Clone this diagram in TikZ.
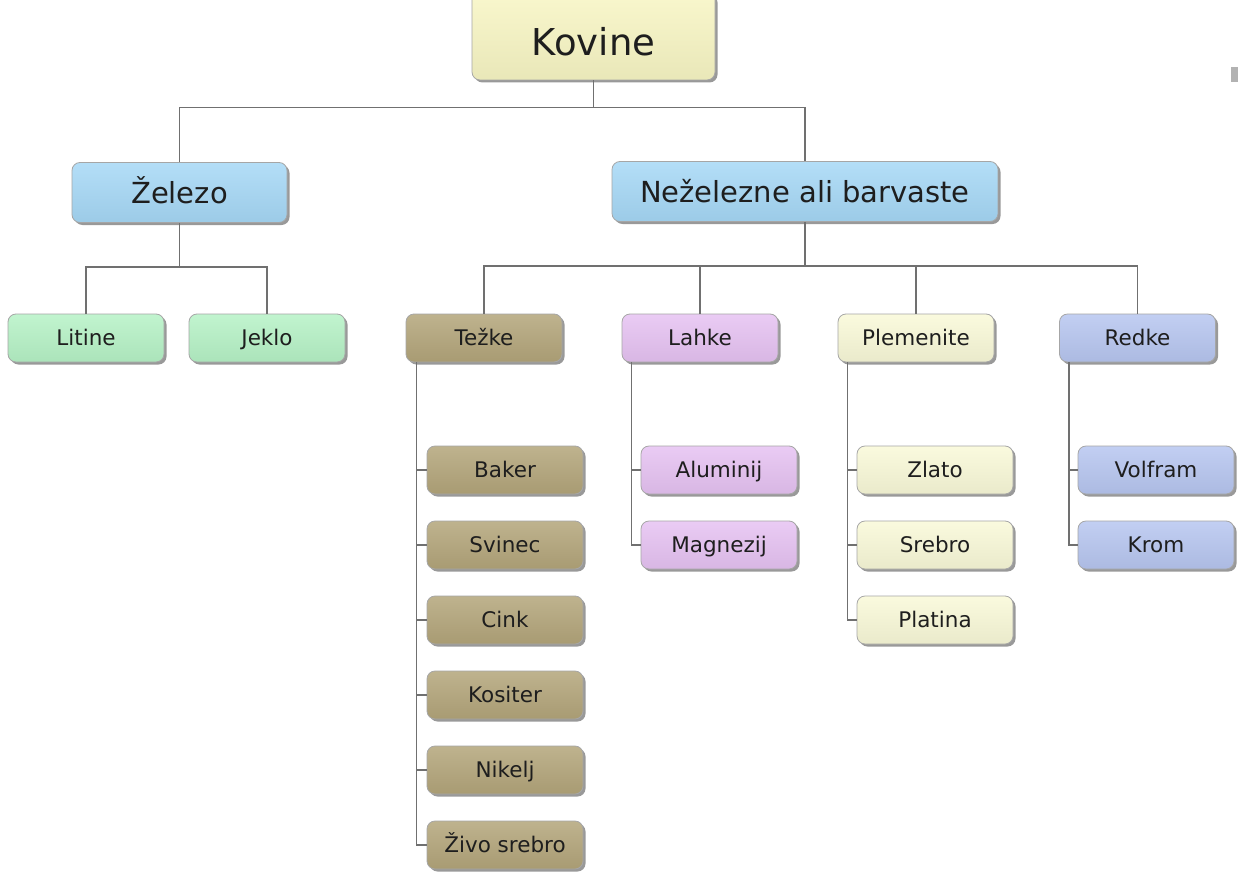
\documentclass[tikz,border=0pt]{standalone}
\usepackage{fontspec}
\setmainfont{DejaVu Sans}
\usetikzlibrary{shadows,calc}
\definecolor{cyel}{HTML}{F8F6C4}
\definecolor{cblue}{HTML}{A6D8F6}
\definecolor{cgreen}{HTML}{B6F2C6}
\definecolor{ctan}{HTML}{B3A57A}
\definecolor{cpurp}{HTML}{E6C2F2}
\definecolor{cplem}{HTML}{F9F9D8}
\definecolor{credk}{HTML}{B7C6F0}
\definecolor{cline}{HTML}{707070}
\definecolor{ctext}{HTML}{1E1E1E}
\tikzset{
  box/.style={rectangle, rounded corners=8pt, draw=gray!70, line width=0.8pt,
    top color=#1!85!white, bottom color=#1!94!black, text=ctext, inner sep=0pt,
    drop shadow={shadow xshift=2.5pt, shadow yshift=-2.5pt, opacity=0.4, fill=black}},
  smallbox/.style={box=#1, minimum width=156pt, minimum height=48pt,
    font=\fontsize{21.5}{26}\selectfont, text height=15.7pt, text depth=0pt},
  bigbox/.style={box=#1, minimum height=60pt,
    font=\fontsize{29}{34}\selectfont, text height=21.2pt, text depth=0pt},
  conn/.style={draw=cline, line width=1.5pt}
}
\begin{document}
\begin{tikzpicture}[x=1pt,y=-1pt]
\useasboundingbox (0,0) rectangle (1238,872);
\fill[white] (0,0) rectangle (1238,872);
% root
\node[box=cyel, minimum width=243pt, minimum height=88pt, font=\fontsize{37}{43}\selectfont,
  text height=27pt, text depth=0pt] (kov) at (593.5,36) {\raisebox{-6pt}{Kovine}};
% level 1
\node[bigbox=cblue, minimum width=215pt] (zel) at (179.5,192.5) {Železo};
\node[bigbox=cblue, minimum width=386pt] (nez) at (805,191.5) {Neželezne ali barvaste};
% level 2
\node[smallbox=cgreen] (lit) at (86,338) {Litine};
\node[smallbox=cgreen] (jek) at (267,338) {Jeklo};
\node[smallbox=ctan] (tez) at (484,338) {Težke};
\node[smallbox=cpurp] (lah) at (700,338) {Lahke};
\node[smallbox=cplem] (ple) at (916,338) {Plemenite};
\node[smallbox=credk] (red) at (1137.5,338) {Redke};
% Težke children
\node[smallbox=ctan] (bak) at (505,470) {Baker};
\node[smallbox=ctan] (svi) at (505,545) {Svinec};
\node[smallbox=ctan] (cin) at (505,620) {Cink};
\node[smallbox=ctan] (kos) at (505,695) {Kositer};
\node[smallbox=ctan] (nik) at (505,770) {Nikelj};
\node[smallbox=ctan] (ziv) at (505,845) {Živo srebro};
% Lahke children
\node[smallbox=cpurp] (alu) at (719,470) {Aluminij};
\node[smallbox=cpurp] (mag) at (719,545) {Magnezij};
% Plemenite children
\node[smallbox=cplem] (zla) at (935,470) {Zlato};
\node[smallbox=cplem] (sre) at (935,545) {Srebro};
\node[smallbox=cplem] (pla) at (935,620) {Platina};
% Redke children
\node[smallbox=credk] (vol) at (1156,470) {Volfram};
\node[smallbox=credk] (kro) at (1156,545) {Krom};
% connectors
\coordinate (b0) at ($(kov.south)+(0,27)$);
\draw[conn] (kov.south) -- (b0);
\draw[conn] (b0) -| (zel.north);
\draw[conn] (b0) -| (nez.north);
\coordinate (b1) at ($(zel.south)+(0,44)$);
\draw[conn] (zel.south) -- (b1);
\draw[conn] (b1) -| (lit.north);
\draw[conn] (b1) -| (jek.north);
\coordinate (b2) at ($(nez.south)+(0,44)$);
\draw[conn] (nez.south) -- (b2);
\draw[conn] (b2) -| (tez.north);
\draw[conn] (b2) -| (lah.north);
\draw[conn] (b2) -| (ple.north);
\draw[conn] (b2) -| (red.north);
\coordinate (t0) at ($(tez.south west)+(11,0)$);
\foreach \c in {bak,svi,cin,kos,nik,ziv} \draw[conn] (t0) |- (\c.west);
\coordinate (l0) at ($(lah.south west)+(10,0)$);
\foreach \c in {alu,mag} \draw[conn] (l0) |- (\c.west);
\coordinate (p0) at ($(ple.south west)+(10,0)$);
\foreach \c in {zla,sre,pla} \draw[conn] (p0) |- (\c.west);
\coordinate (r0) at ($(red.south west)+(10,0)$);
\foreach \c in {vol,kro} \draw[conn] (r0) |- (\c.west);
\fill[gray!60] (1231,67) rectangle (1240,82);
\end{tikzpicture}
\end{document}
